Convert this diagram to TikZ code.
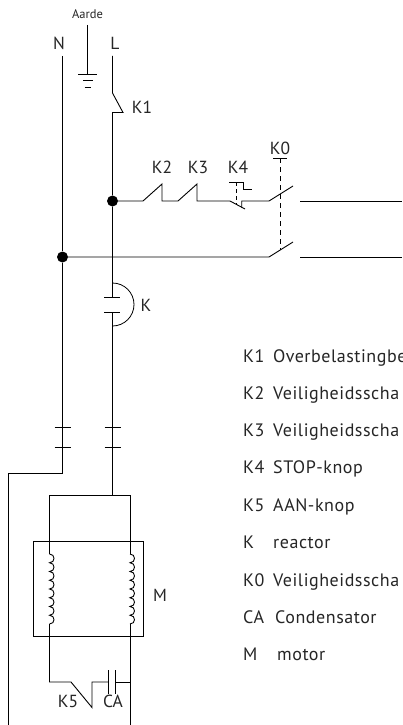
\documentclass[tikz,border=0pt]{standalone}
\usepackage{fontspec}
\setmainfont{PT Sans}
\newfontfamily\legfont[LetterSpace=3]{PT Sans}
\tikzset{
  wire/.style={draw=black,line width=0.9pt},
  thin wire/.style={draw=black,line width=0.8pt},
  lbl/.style={inner sep=0pt,font=\fontsize{17.5}{18}\selectfont,text=black!85},
  leg/.style={inner sep=0pt,anchor=base west,font=\legfont\fontsize{18}{18}\selectfont,text=black!85},
  dot/.style={circle,fill=black,draw=none,inner sep=0pt,minimum size=11pt},
}
\begin{document}
\begin{tikzpicture}[x=1pt,y=-1pt]
\useasboundingbox (0,0) rectangle (402,725);
\clip (0,0) rectangle (402,725);
\fill[white] (0,0) rectangle (402,725);
% coordinates
\node[dot] (jL) at (112.5,201) {};
\node[dot] (jN) at (62.5,257) {};
\node[inner sep=0pt,font=\fontsize{12.5}{13}\selectfont,text=black!85] (aarde) at (87.5,14) {Aarde};
\node[lbl] (N) at (59,43) {N};
\node[lbl] (L) at (115,43) {L};
\node[lbl] (k1) at (142,107) {K1};
\node[lbl] (k2) at (162,167) {K2};
\node[lbl] (k3) at (198,167) {K3};
\node[lbl] (k4) at (238,167) {K4};
\node[lbl] (k0) at (280,148) {K0};
\node[lbl] (k) at (146,305) {K};
\node[lbl] (m) at (160,595) {M};
\node[lbl] (k5) at (68,701) {K5};
\node[lbl] (ca) at (113,701) {CA};
% earth
\draw[wire] (87.5,25) -- (87.5,74.5);
\draw[wire] (78,74.5) -- (97,74.5);
\draw[wire] (83,80.5) -- (92.5,80.5);
\draw[wire] (84.5,87) -- (91,87);
% N
\draw[wire,line width=1pt] (62.5,56) -- (jN) -- (62.5,473) -- (8.7,473) -- (8.7,725);
% L
\draw[wire] (112.5,56) -- (112.5,93) -- (123,112.5) -- (112.5,112.5) -- (jL) -- (112.5,297);
\draw[wire] (112.5,312) -- (112.5,495);
% top branch
\draw[wire] (jL) -- (143,201) -- (162,184) -- (162,201) -- (178,201) -- (197,184) -- (197,201) -- (230,201) -- (245,209);
\draw[wire] (241.7,207.5) -- (241.7,201) -- (269,201) -- (293,186);
\draw[wire] (300,201) -- (402,201);
\draw[wire] (jN) -- (269,257) -- (293,242);
\draw[wire] (300,257) -- (402,257);
% K4 actuator
\draw[wire] (229,182) -- (243,182) -- (243,189) -- (252,189);
\draw[wire,dash pattern=on 4pt off 3pt] (236,182) -- (236,204);
% K0 actuator
\draw[wire] (273,158) -- (287,158);
\draw[wire,dash pattern=on 5pt off 4pt] (280,158) -- (280,250);
% K
\draw[thin wire] (104,297) -- (120,297);
\draw[thin wire] (104,312) -- (120,312);
\draw[thin wire] (112.5,283) arc[start angle=-90,end angle=90,radius=21.5];
% crossings
\foreach \x in {62.5,112.5}{
  \draw[thin wire] (\x-8,427) -- (\x+8,427);
  \draw[thin wire] (\x-8,447) -- (\x+8,447);
}
% motor
\draw[wire] (49.5,554) -- (49.5,495) -- (130,495) -- (130,554);
\draw[thin wire] (33.5,541.5) rectangle (143.5,636);
\foreach \x in {49.5,130}{
  \draw[wire] (\x,554)
    \foreach \i in {0,...,7}{
      .. controls (\x+6,{554+8.75*\i}) and (\x+6,{554+8.75*\i+8.75}) .. (\x,{554+8.75*\i+8.75})
    };
}
\draw[wire] (49.5,624) -- (49.5,682) -- (71,682) -- (92,707.5) -- (92,682) -- (108.5,682);
\draw[wire] (130,624) -- (130,725);
\draw[wire] (115,682) -- (130,682);
\draw[wire] (108.5,670) -- (108.5,694);
\draw[wire] (115,670) -- (115,694);
% legend
\foreach \n/\yy/\a/\b/\xx in {l1/362/K1/Overbelastingbe/273,l2/399/K2/Veiligheidsscha/273,l3/436/K3/Veiligheidsscha/273,l4/473.5/K4/STOP-knop/273,l5/511/K5/AAN-knop/273,l6/548/K/reactor/273,l7/586/K0/Veiligheidsscha/273,l8/623/CA/Condensator/275,l9/660/M/motor/277}{
  \node[leg] (\n a) at (243,\yy) {\a};
  \node[leg] (\n b) at (\xx,\yy) {\b};
}
\end{tikzpicture}
\end{document}
